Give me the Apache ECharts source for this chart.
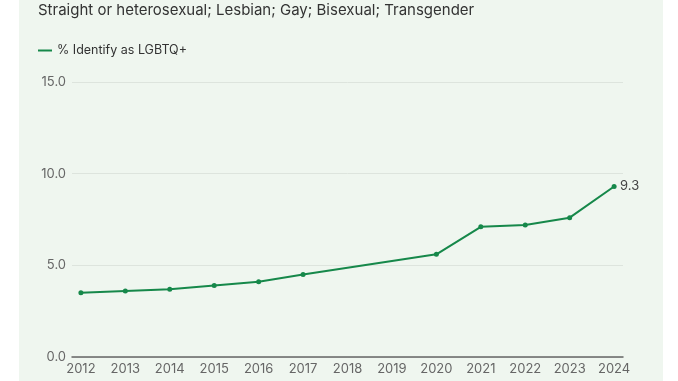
<!DOCTYPE html>
<html><head><meta charset="utf-8">
<script src="https://cdn.jsdelivr.net/npm/echarts@6/dist/echarts.min.js"></script>
<style>html,body{margin:0;padding:0;background:#fff}#c{width:678px;height:381px}</style>
</head><body><div id="c"></div>
<script>
const titleText = 'Straight or heterosexual; Lesbian; Gay; Bisexual; Transgender';
const seriesName = '% Identify as LGBTQ+';
const years = [2012, 2013, 2014, 2015, 2016, 2017, 2018, 2019, 2020, 2021, 2022, 2023, 2024];
const values = [3.5, 3.6, 3.7, 3.9, 4.1, 4.5, null, null, 5.6, 7.1, 7.2, 7.6, 9.3];
const yTicks = [0, 5, 10, 15];

const data = years.map((y, i) => [y, values[i]]);
const chart = echarts.init(document.getElementById('c'));
chart.setOption({
  backgroundColor: '#ffffff',
  animation: false,
  graphic: [{ type: 'rect', z: -10, silent: true, shape: { x: 19, y: 0, width: 644, height: 381 }, style: { fill: '#eff6ef' } }],
  title: { text: titleText, left: 33, top: -2, textStyle: { fontFamily: 'Inter', fontSize: 15, fontWeight: 'normal', color: '#333' } },
  legend: { left: 33, top: 39, icon: 'rect', itemWidth: 14, itemHeight: 2, itemGap: 10,
    textStyle: { fontFamily: 'Inter', fontSize: 12.5, color: '#333' }, data: [seriesName] },
  grid: { left: 72, right: 55, top: 82, bottom: 24, containLabel: false },
  xAxis: { type: 'value', min: 2011.8, max: 2024.2,
    axisLine: { show: true, lineStyle: { color: '#666', width: 1.5 } },
    axisTick: { show: false }, splitLine: { show: false },
    axisLabel: { customValues: years, formatter: v => String(v), fontFamily: 'Inter', fontSize: 13, color: '#666', margin: 6 } },
  yAxis: { type: 'value', min: 0, max: 15, interval: 5,
    customTicks: yTicks,
    axisLine: { show: false }, axisTick: { show: false },
    splitLine: { lineStyle: { color: '#dde4dd', width: 1 } },
    axisLabel: { formatter: v => v.toFixed(1), fontFamily: 'Inter', fontSize: 13, color: '#666', margin: 6 } },
  series: [{ name: seriesName, type: 'line', data: data, connectNulls: true,
    color: '#16884a', lineStyle: { width: 2, color: '#16884a' },
    symbol: 'circle', symbolSize: 5, itemStyle: { color: '#16884a' },
    endLabel: { show: true, formatter: p => p.value[1].toFixed(1), fontFamily: 'Inter', fontSize: 13, color: '#444', distance: 6 } }]
});
</script></body></html>
